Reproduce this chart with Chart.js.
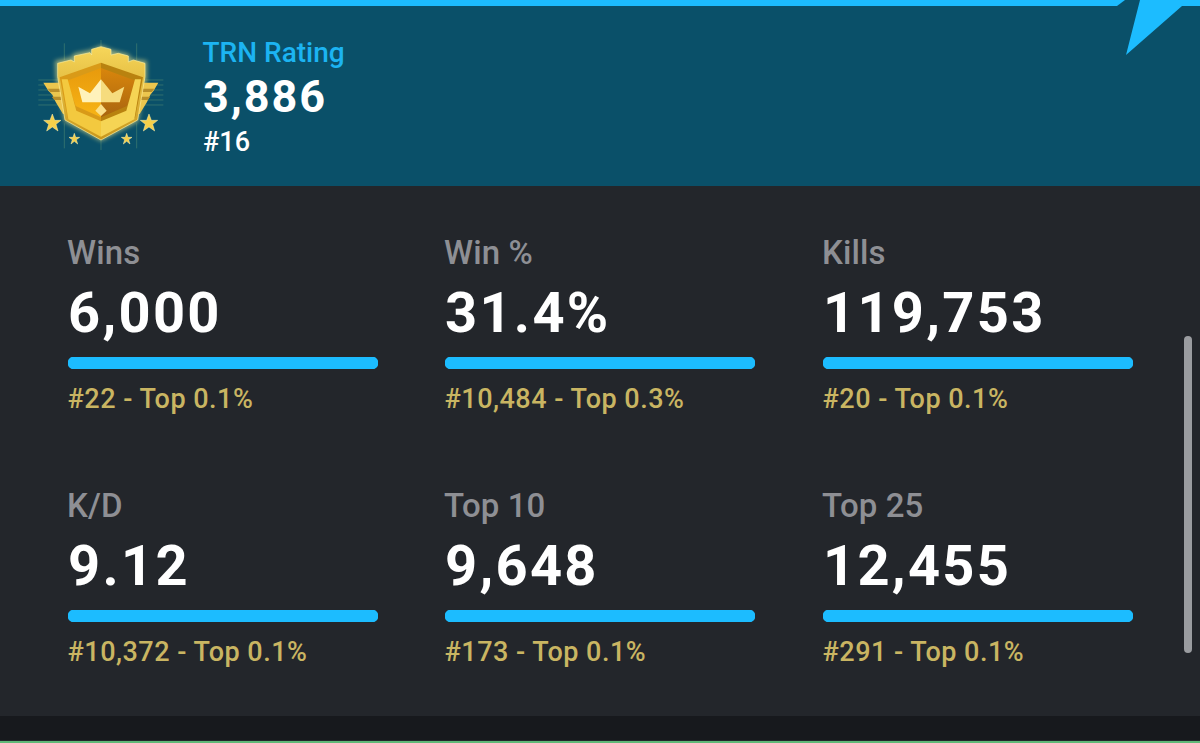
<!DOCTYPE html>
<html><head><meta charset="utf-8">
<script src="https://cdn.jsdelivr.net/npm/chart.js@4/dist/chart.umd.min.js"></script>
<style>
html,body{margin:0;padding:0;width:1200px;height:743px;overflow:hidden;background:#23262b;font-family:Roboto,sans-serif}
.abs{position:absolute;white-space:nowrap;line-height:1}
.lab{color:#8e8f94;font-size:33px;font-weight:500;letter-spacing:.1px}
.val{color:#fff;font-size:56px;font-weight:700;letter-spacing:2.3px}
.rank{color:#c9b562;font-size:27px;font-weight:500;letter-spacing:.5px}
canvas{display:block}
.bar{position:absolute;width:310px;height:12px}
</style></head><body>
<svg class="abs" style="left:0;top:0" width="1200" height="743" viewBox="0 0 1200 743">
<defs>
<linearGradient id="top" x1="0" y1="0" x2="0" y2="1"><stop offset="0" stop-color="#f6d65a"/><stop offset="1" stop-color="#c9971c"/></linearGradient>
<linearGradient id="faceL" x1="0" y1="0" x2="0" y2="1"><stop offset="0" stop-color="#e89a0c"/><stop offset="1" stop-color="#f7b416"/></linearGradient>
<linearGradient id="faceR" x1="0" y1="0" x2="0" y2="1"><stop offset="0" stop-color="#d9860c"/><stop offset="1" stop-color="#a9650f"/></linearGradient>
<filter id="gl" x="-30%" y="-30%" width="160%" height="160%"><feGaussianBlur stdDeviation="7"/></filter>
</defs>
<rect x="0" y="0" width="1200" height="186" fill="#0a5069"/>
<polygon points="0,0 1125,0 1117,6 0,6" fill="#1cbcff"/>
<polygon points="1140,0 1200,0 1200,6 1182,6 1126,55" fill="#1cbcff"/>
<rect x="0" y="716" width="1200" height="24" fill="#17191d"/>
<rect x="0" y="741" width="1200" height="2" fill="#5fb878"/>
<rect x="1184" y="336" width="8" height="317" rx="4" fill="#9a9ca0"/>
<g transform="translate(35,40) scale(.33333)">
<g stroke="#8fbf7a" stroke-width="3" opacity=".28">
<path d="M10 120H70M10 135H70M10 150H70M10 165H70M10 180H70M10 195H70M328 120H385M328 135H385M328 150H385M328 165H385M328 180H385M328 195H385"/>
<path d="M88 10V60M88 250V325M305 10V60M305 250V325M198 0V20M198 300V330"/>
</g>
<path d="M60 62 L108 52 L118 40 L165 30 L198 16 L232 30 L280 42 L290 56 L336 62 L336 112 L310 245 L198 304 L88 245 L62 112 Z" fill="#fff08a" opacity=".55" filter="url(#gl)"/>
<polygon points="25,128 76,128 100,222 84,222 62,186 52,164 40,152" fill="#ecc64e"/>
<polygon points="370,128 320,128 298,222 314,222 336,186 346,164 356,152" fill="#ecc64e"/>
<g fill="#b98f2a"><polygon points="38,146 78,146 80,156 46,156"/><polygon points="50,170 84,170 86,180 58,180"/><polygon points="358,146 318,146 316,156 350,156"/><polygon points="346,170 312,170 310,180 338,180"/></g>
<path d="M68 70 L108 60 L118 66 L118 48 L165 38 L170 45 L170 28 L198 20 L228 28 L228 45 L250 40 L280 48 L280 66 L295 60 L330 70 L330 110 L308 240 L198 300 L90 240 L68 110 Z" fill="url(#top)" stroke="#ffef9c" stroke-width="2"/>
<polygon points="74,112 198,68 198,282 98,234" fill="#d99a18"/>
<polygon points="324,112 198,68 198,282 300,234" fill="#b9820f"/>
<polygon points="96,122 198,84 198,232 122,198" fill="url(#faceL)"/>
<polygon points="302,122 198,84 198,232 276,198" fill="url(#faceR)"/>
<polygon points="80,118 98,118 124,212 198,244 198,290 100,238" fill="#f3c93f"/>
<polygon points="318,118 300,118 274,212 198,244 198,290 298,238" fill="#f5d454"/>
<polygon points="130,140 165,160 198,118 198,187 142,187" fill="#fff2bb"/>
<polygon points="268,140 232,160 198,118 198,187 254,187" fill="#f6dc7e"/>
<polygon points="198,192 215,212 198,228 181,212" fill="#fbe08a"/>
<g fill="#f5cf4a" stroke="#fff2ae" stroke-width="1.500">
<polygon points="52,222 59,241 78,241 63,253 69,273 52,261 35,273 41,253 26,241 45,241"/>
<polygon points="342,222 349,241 368,241 353,253 359,273 342,261 325,273 331,253 316,241 335,241"/>
<polygon points="118,280 122,292 134,292 124,299 128,312 118,304 108,312 112,299 102,292 114,292"/>
<polygon points="275,280 279,292 291,292 281,299 285,312 275,304 265,312 269,299 259,292 271,292"/>
</g>
</g>
</svg>
<div class="abs" style="left:202.500px;top:39px;color:#1cb4f2;font-size:28px;font-weight:500">TRN Rating</div>
<div class="abs" style="left:203px;top:74px;color:#fff;font-size:45px;font-weight:700;letter-spacing:1.9px">3,886</div>
<div class="abs" style="left:203px;top:129px;color:#fff;font-size:27px;font-weight:500">#16</div>
<div id="cards"></div>
<script>
const statLabels = ["Wins","Win %","Kills","K/D","Top 10","Top 25"];
const statValues = ["6,000","31.4%","119,753","9.12","9,648","12,455"];
const statRanks = ["#22 - Top 0.1%","#10,484 - Top 0.3%","#20 - Top 0.1%","#10,372 - Top 0.1%","#173 - Top 0.1%","#291 - Top 0.1%"];
const barFill = [100,100,100,100,100,100];
const colX = [68,445,823];
const rowY = [0,253];
const host = document.getElementById('cards');
function add(cls,text,x,y){const d=document.createElement('div');d.className='abs '+cls;d.textContent=text;d.style.left=x+'px';d.style.top=y+'px';host.appendChild(d);}
statLabels.forEach((label,i)=>{
  const x=colX[i%3], dy=rowY[Math.floor(i/3)];
  add('lab',label,x-1,236+dy);
  add('val',statValues[i],x,285+dy);
  add('rank',statRanks[i],x-.5,386+dy);
  const wrap=document.createElement('div');wrap.className='bar';wrap.style.left=x+'px';wrap.style.top=(357+dy)+'px';
  const c=document.createElement('canvas');wrap.appendChild(c);host.appendChild(wrap);
  new Chart(c,{type:'bar',data:{labels:[label],datasets:[{data:[barFill[i]],backgroundColor:'#1cbcff',borderRadius:6,borderSkipped:false,barPercentage:1,categoryPercentage:1}]},
    options:{indexAxis:'y',responsive:true,maintainAspectRatio:false,animation:false,layout:{padding:0},
      plugins:{legend:{display:false},tooltip:{enabled:false}},
      scales:{x:{display:false,min:0,max:100},y:{display:false}}}});
});
</script>
</body></html>
